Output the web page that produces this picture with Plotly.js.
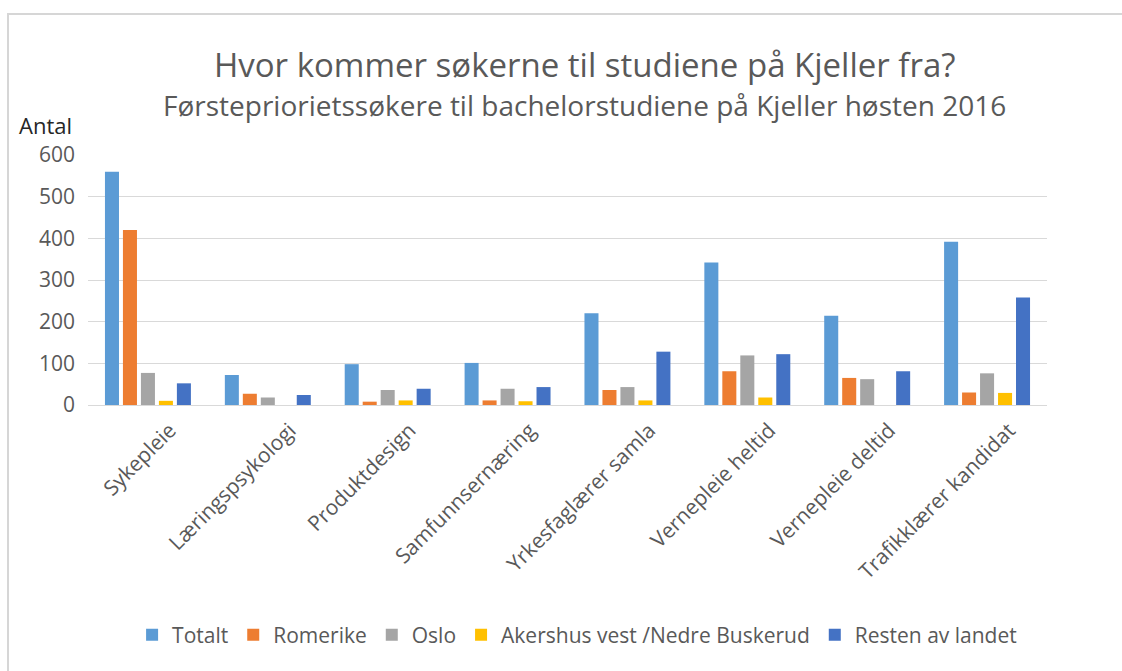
<!DOCTYPE html>
<html>
<head>
<meta charset="utf-8">
<script src="https://cdn.plot.ly/plotly-3.0.1.min.js"></script>
<style>
  html, body { margin: 0; padding: 0; background: #ffffff; }
  #chart { width: 1122px; height: 671px; position: absolute; left: 0; top: 0; }
  #frame { position: absolute; left: 7px; top: 13px; width: 1130px; height: 680px;
           border-left: 2px solid #d6d6d6; border-top: 2px solid #d6d6d6; pointer-events: none; }
</style>
</head>
<body>
<div id="chart"></div>
<div id="frame"></div>
<script>
const categories = ["Sykepleie", "Læringspsykologi", "Produktdesign", "Samfunnsernæring",
  "Yrkesfaglærer samla", "Vernepleie heltid", "Vernepleie deltid", "Trafikklærer kandidat"];
const seriesNames = ["Totalt", "Romerike", "Oslo", "Akershus vest /Nedre Buskerud", "Resten av landet"];
const totalt    = [560, 72, 98, 101, 220, 342, 214, 392];
const romerike  = [420, 27, 8, 11, 36, 81, 65, 30];
const oslo      = [77, 18, 36, 39, 43, 119, 62, 76];
const akershus  = [10, 0, 11, 9, 11, 18, 0, 29];
const resten    = [52, 24, 39, 43, 128, 122, 81, 258];
const colors = ["#5B9BD5", "#ED7D31", "#A5A5A5", "#FFC000", "#4472C4"];
const yTicks = [0, 100, 200, 300, 400, 500, 600];
const titleText = "Hvor kommer søkerne til studiene på Kjeller fra?";
const subtitleText = "Førstepriorietssøkere til bachelorstudiene på Kjeller høsten 2016";
const yTitleText = "Antal";

const allSeries = [totalt, romerike, oslo, akershus, resten];
const traces = allSeries.map((vals, i) => ({
  type: "bar",
  name: seriesNames[i],
  x: categories,
  y: vals,
  marker: { color: colors[i] },
  hoverinfo: "x+y+name"
}));

const font = "'Open Sans', sans-serif";
const layout = {
  width: 1122, height: 671,
  margin: { l: 88, r: 75, t: 155, b: 266 },
  paper_bgcolor: "#ffffff",
  plot_bgcolor: "#ffffff",
  barmode: "group",
  bargap: 0.25,
  bargroupgap: 0.22,
  font: { family: font, color: "#595959" },
  title: {
    text: titleText,
    font: { family: font, size: 33, color: "#595959" },
    xref: "paper", x: 0.518, xanchor: "center",
    yref: "container", y: 1 - 65 / 671, yanchor: "middle"
  },
  xaxis: {
    type: "category",
    tickangle: -45,
    tickfont: { family: font, size: 21, color: "#595959" },
    ticklabelshift: 22,
    ticklabelstandoff: 8,
    showgrid: false,
    showline: false,
    ticks: ""
  },
  yaxis: {
    range: [0, 600],
    tickvals: yTicks,
    ticktext: yTicks.map(String),
    tickfont: { family: font, size: 21, color: "#595959" },
    ticklabelstandoff: 12,
    gridcolor: "#d9d9d9",
    gridwidth: 1,
    zeroline: true,
    zerolinecolor: "#d9d9d9",
    showline: false,
    ticks: "",
    automargin: false
  },
  legend: {
    orientation: "h",
    x: 0.51, xanchor: "center",
    y: -0.92, yanchor: "middle",
    font: { family: font, size: 21, color: "#595959" },
    traceorder: "normal"
  },
  annotations: [{
    text: subtitleText,
    xref: "paper", yref: "paper",
    x: 0.518, xanchor: "center",
    y: 1.2, yanchor: "middle",
    showarrow: false,
    font: { family: font, size: 28, color: "#595959" }
  }, {
    text: yTitleText,
    xref: "paper", yref: "paper",
    x: -0.074, xanchor: "left",
    y: 1.12, yanchor: "middle",
    showarrow: false,
    font: { family: font, size: 22, color: "#262626" }
  }]
};

Plotly.newPlot("chart", traces, layout, { displayModeBar: false, staticPlot: true });
</script>
</body>
</html>
